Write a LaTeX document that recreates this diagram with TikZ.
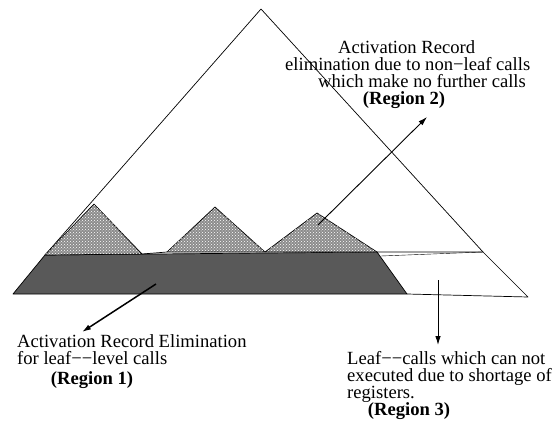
\documentclass[tikz,border=0pt]{standalone}
\usepackage{fontspec}
\setmainfont{Liberation Serif}
\usetikzlibrary{patterns, arrows.meta}
\colorlet{band_dark}{black!65}
\colorlet{hatch_gray}{white}
\colorlet{outline_line}{black}
\newcommand{\mdash}{\char"2212\relax}

\begin{document}
\begin{tikzpicture}[
    x=1pt, y=-1pt,
    >={Latex[length=9pt,width=5.5pt]},
    outline/.style={color=outline_line, line width=0.7pt, line join=round},
    subtree/.style={outline, fill=black!45, postaction={pattern=crosshatch dots, pattern color=hatch_gray}},
    pointer/.style={->, line width=0.9pt},
    note/.style={font=\fontsize{18.6}{17}\selectfont, inner sep=0pt, anchor=base west},
    region/.style={note, anchor=base, font=\fontsize{18.6}{17}\selectfont\bfseries},
  ]
  \useasboundingbox (0,0) rectangle (559,423);

  %%%%%%%%%% Outer call tree %%%%%%%%%%
  \coordinate (apex) at (261,9);
  \coordinate (bandTL) at (45,255);
  \coordinate (bandBL) at (13,294);
  \coordinate (darkTR) at (377,252);
  \coordinate (darkBR) at (407,294);
  \coordinate (whiteTR) at (483,252);
  \coordinate (whiteBR) at (528,297);

  \draw[outline] (bandTL) -- (apex) -- (whiteTR);

  %%%%%%%%%% Leaf band (Region 1) %%%%%%%%%%
  \filldraw[outline, fill=band_dark] (bandTL) -- (darkTR) -- (darkBR) -- (bandBL) -- cycle;

  %%%%%%%%%% Unserved leaves (Region 3) %%%%%%%%%%
  \draw[outline] (darkTR) -- (whiteTR) -- (whiteBR) -- (darkBR);
  \draw[outline, line width=0.4pt] (381,256) -- (whiteTR);

  %%%%%%%%%% Non-leaf subtrees (Region 2) %%%%%%%%%%
  \foreach \lx/\ly/\px/\py/\rx/\ry in {45/255/94/204/142/254, 167/252/215/207/265/252, 265/252/317/213/377/252} {
    \filldraw[subtree] (\lx,\ly) -- (\px,\py) -- (\rx,\ry) -- cycle;
  }
  \draw[outline] (142,254) -- (167,252);

  %%%%%%%%%% Texts %%%%%%%%%%
  \node[note] (r2a) at (338,53) {Activation Record};
  \node[note] (r2b) at (285,70) {elimination due to non\mdash leaf calls};
  \node[note] (r2c) at (318,87) {which make no further calls};
  \node[region] (r2) at (404,104) {(Region 2)};

  \node[note] (r1a) at (17,347) {Activation Record Elimination};
  \node[note] (r1b) at (17,364) {for leaf\mdash\mdash level calls};
  \node[region] (r1) at (92,384) {(Region 1)};

  \node[note] (r3a) at (347,364) {Leaf\mdash\mdash calls which can not};
  \node[note] (r3b) at (347,381) {executed due to shortage of};
  \node[note] (r3c) at (347,398) {registers.};
  \node[region] (r3) at (409,415) {(Region 3)};

  %%%%%%%%%% Pointers %%%%%%%%%%
  \coordinate (r2tail) at (318,225);
  \coordinate (r2tip) at (427,117);
  \coordinate (r1tail) at (156,284);
  \coordinate (r1tip) at (82,332);
  \coordinate (r3tail) at (438,280);
  \coordinate (r3tip) at (438,345);

  \draw[pointer] (r2tail) -- (r2tip);
  \draw[pointer, line width=1.5pt] (r1tail) -- (r1tip);
  \draw[pointer] (r3tail) -- (r3tip);

\end{tikzpicture}
\end{document}
